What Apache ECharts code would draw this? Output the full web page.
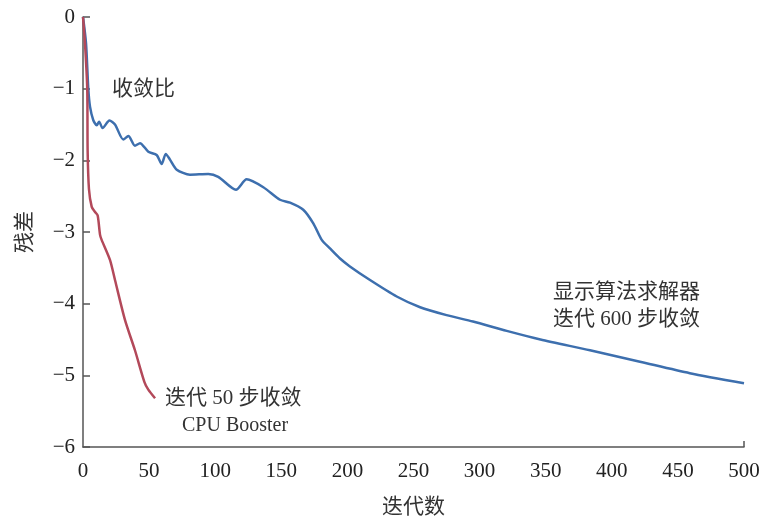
<!DOCTYPE html>
<html>
<head>
<meta charset="utf-8">
<script src="https://cdn.jsdelivr.net/npm/echarts@6/dist/echarts.min.js"></script>
<style>html,body{margin:0;padding:0;background:#fff}#c{width:762px;height:519px}</style>
</head>
<body>
<div id="c"></div>
<script>
// Explicit solver (显示算法求解器) residual curve
var explicitX = [0, 2.3, 4, 5.3, 7.8, 10.4, 12.2, 14.8, 20, 24.2, 30.5, 34.3, 39.3, 43.1, 49.4, 55.7, 59.5, 62.6, 65.8, 70.9, 80.9, 94.8, 102.3, 115.7, 123.8, 136.4, 149, 156.6, 166.6, 174.2, 180.6, 186.8, 194.4, 201.9, 217.1, 237.3, 255, 275, 295, 320.5, 346, 383.5, 421.3, 459, 500];
var explicitY = [0, -0.37, -1.0, -1.25, -1.44, -1.51, -1.46, -1.55, -1.445, -1.50, -1.71, -1.66, -1.795, -1.76, -1.88, -1.925, -2.05, -1.91, -1.99, -2.13, -2.20, -2.19, -2.23, -2.41, -2.265, -2.375, -2.55, -2.59, -2.69, -2.88, -3.11, -3.23, -3.37, -3.48, -3.67, -3.90, -4.05, -4.16, -4.25, -4.38, -4.50, -4.65, -4.81, -4.97, -5.11];
// CPU Booster residual curve
var boosterX = [0, 1.5, 3.2, 3.5, 4.5, 6.6, 9.1, 11.1, 12.9, 14.1, 20.4, 24.2, 31.8, 39.3, 46.4, 49.4, 54.5];
var boosterY = [0, -0.37, -1.0, -1.86, -2.4, -2.65, -2.72, -2.77, -3.04, -3.11, -3.39, -3.67, -4.23, -4.65, -5.09, -5.20, -5.32];
var xTicks = [0, 50, 100, 150, 200, 250, 300, 350, 400, 450, 500];
var yTicks = [0, -1, -2, -3, -4, -5, -6];

function pairs(xs, ys) { return xs.map(function (x, i) { return [x, ys[i]]; }); }

var FONT = '"Liberation Serif", "Noto Sans CJK SC", serif';
var chart = echarts.init(document.getElementById('c'));
chart.setOption({
  animation: false,
  backgroundColor: '#fff',
  grid: { left: 83, right: 18, top: 17, bottom: 72, containLabel: false, outerBoundsMode: 'none' },
  xAxis: {
    type: 'value', min: 0, max: 500, interval: 50,
    name: '迭代数', nameLocation: 'middle', nameGap: 50,
    nameTextStyle: { fontFamily: FONT, fontSize: 21, color: '#333' },
    axisLine: { onZero: false, lineStyle: { color: '#555', width: 1.5 } },
    axisTick: { show: true, inside: true, length: 6, customValues: [500], lineStyle: { color: '#555', width: 1.5 } },
    axisLabel: { customValues: xTicks, margin: 14, fontFamily: FONT, fontSize: 21, color: '#222' },
    splitLine: { show: false }
  },
  yAxis: {
    type: 'value', min: -6, max: 0, interval: 1,
    name: '残差', nameLocation: 'middle', nameGap: 47, nameRotate: 90,
    nameTextStyle: { fontFamily: FONT, fontSize: 21, color: '#333' },
    axisLine: { show: true, onZero: false, lineStyle: { color: '#555', width: 1.5 } },
    axisTick: { show: true, inside: true, length: 7, customValues: yTicks, lineStyle: { color: '#555', width: 1.5 } },
    axisLabel: { customValues: yTicks, margin: 8, fontFamily: FONT, fontSize: 21, color: '#222',
      formatter: function (v) { return String(v).replace('-', '\u2212'); } },
    splitLine: { show: false }
  },
  series: [
    { type: 'line', name: '显示算法求解器', data: pairs(explicitX, explicitY), smooth: 0.25, symbol: 'none',
      lineStyle: { color: '#3d6fae', width: 2.5 } },
    { type: 'line', name: 'CPU Booster', data: pairs(boosterX, boosterY), smooth: 0.25, symbol: 'none',
      lineStyle: { color: '#b3495a', width: 2.5 } }
  ],
  graphic: [
    { type: 'text', left: 112, top: 79, style: { text: '收敛比', font: '21px ' + FONT, fill: '#333' } },
    { type: 'text', left: 165, top: 388, style: { text: '迭代 50 步收敛', font: '21px ' + FONT, fill: '#333' } },
    { type: 'text', left: 182, top: 416, style: { text: 'CPU Booster', font: '20px ' + FONT, fill: '#333' } },
    { type: 'text', left: 553, top: 282, style: { text: '显示算法求解器', font: '21px ' + FONT, fill: '#333' } },
    { type: 'text', left: 553, top: 309, style: { text: '迭代 600 步收敛', font: '21px ' + FONT, fill: '#333' } }
  ]
});
</script>
</body>
</html>
